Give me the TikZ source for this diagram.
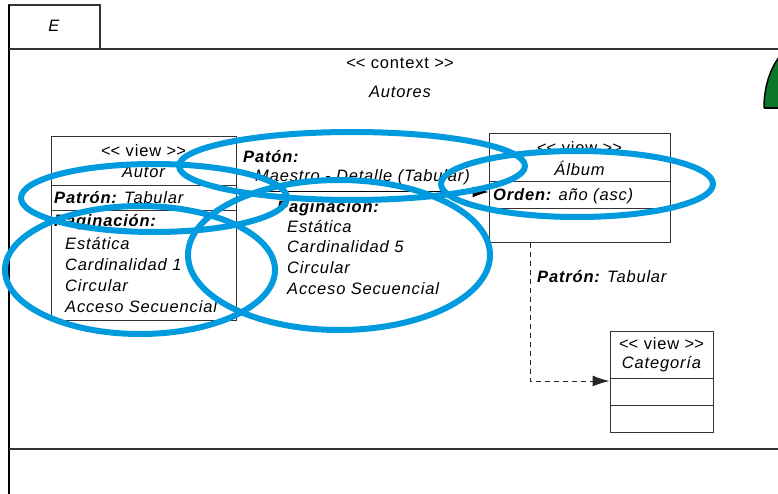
\documentclass[tikz,border=0pt]{standalone}
\usepackage{fontspec}
\setmainfont{Liberation Sans}[LetterSpace=5]
\usetikzlibrary{arrows.meta}
\newcommand{\stereo}[1]{<\kern0pt< #1 >\kern0pt>}
\begin{document}
\begin{tikzpicture}[x=1pt,y=-1pt,
  every node/.style={font=\fontsize{16.5}{19}\selectfont, inner sep=0pt},
  frame/.style={line width=1.6pt, draw=black!80},
  umlbox/.style={draw=black!80, line width=1pt, rectangle, fill=none},
  sep/.style={draw=black!80, line width=1pt},
  lbl/.style={anchor=west},
  ctr/.style={anchor=center},
  assoc/.style={draw=black, line width=1pt, -{Latex[length=16pt,width=11pt]}},
  dep/.style={draw=black!85, line width=1pt, dash pattern=on 5pt off 4pt, -{Latex[length=17pt,width=11pt]}},
  annot/.style={draw={rgb,255:red,0;green,155;blue,222}, line width=6pt}
]
\useasboundingbox (0,0) rectangle (778,494);
\fill[white] (0,0) rectangle (778,494);

% frame
\node[umlbox, frame, minimum width=91pt, minimum height=44pt] (tabE) at (54.5,27) {};
\node[ctr] (tE) at (54,26) {\itshape E};
\coordinate (ftl) at (9,5);
\coordinate (fbl) at (9,494);
\coordinate (h1l) at (9,49);
\coordinate (h1r) at (778,49);
\coordinate (h2l) at (9,449);
\coordinate (h2r) at (778,449);
\draw[frame, draw=black] (ftl) -- (fbl);
\draw[frame] (h1l) -- (h1r);
\draw[frame] (h2l) -- (h2r);

\node[ctr] (ctx) at (400,63) {\stereo{context}};
\node[ctr] (ctxn) at (400,92) {\itshape Autores};

% green shape
\begin{scope}
\clip (0,0) rectangle (778,108);
\draw[line width=1.5pt, fill={rgb,255:red,10;green,120;blue,40}] (804,108) ellipse [x radius=40, y radius=65];
\end{scope}
\coordinate (gl) at (764,108);
\coordinate (gr) at (778,108);
\draw[line width=1.5pt] (gl) -- (gr);

% Autor box
\node[umlbox, minimum width=185pt, minimum height=183pt] (autor) at (143.5,228.5) {};
\node[ctr] (autorS) at (143.5,151) {\stereo{view}};
\node[ctr] (autorN) at (143.5,172) {\itshape Autor};
\draw[sep] (autor.west |- 0,186) -- (autor.east |- 0,186);
\node[lbl] (autorP) at (54,198) {\bfseries\itshape Patrón: \mdseries Tabular};
\draw[sep] (autor.west |- 0,211) -- (autor.east |- 0,211);
\node[lbl] (autorG) at (54,222) {\bfseries\itshape Paginación:};
\node[lbl] (autor1) at (65,244) {\itshape Estática};
\node[lbl] (autor2) at (65,265) {\itshape Cardinalidad 1};
\node[lbl] (autor3) at (65,286) {\itshape Circular};
\node[lbl] (autor4) at (65,307) {\itshape Acceso Secuencial};

% Album box
\node[umlbox, minimum width=181pt, minimum height=108pt] (album) at (579.5,188) {};
\node[ctr] (albumS) at (579.5,148) {\stereo{view}};
\node[ctr] (albumN) at (579.5,168) {\itshape Álbum};
\draw[sep] (album.west |- 0,182) -- (album.east |- 0,182);
\node[lbl] (albumO) at (493,196) {\bfseries\itshape Orden: \mdseries año (asc)};
\draw[sep] (album.west |- 0,209) -- (album.east |- 0,209);

% Categoria box
\node[umlbox, minimum width=103pt, minimum height=101pt] (cat) at (661.5,381.5) {};
\node[ctr] (catS) at (661.5,344) {\stereo{view}};
\node[ctr] (catN) at (661.5,364) {\itshape Categoría};
\draw[sep] (cat.west |- 0,378) -- (cat.east |- 0,378);
\draw[sep] (cat.west |- 0,405) -- (cat.east |- 0,405);

% association Autor -> Album
\draw[assoc] (autor.east |- 0,192) -- (album.west |- 0,192);
\node[lbl] (mP) at (243,157) {\bfseries\itshape Patón:};
\node[lbl] (mM) at (255,177) {\itshape Maestro - Detalle (Tabular)};
\node[lbl] (mG) at (277,208) {\bfseries\itshape Paginación:};
\node[lbl] (m1) at (287,227) {\itshape Estática};
\node[lbl] (m2) at (287,247) {\itshape Cardinalidad 5};
\node[lbl] (m3) at (287,268) {\itshape Circular};
\node[lbl] (m4) at (287,289) {\itshape Acceso Secuencial};

% dependency Album -> Categoria
\coordinate (dstart) at (530,242);
\draw[dep] (album.south -| dstart) |- (cat.west |- 0,381);
\node[lbl] (dP) at (537,277) {\bfseries\itshape Patrón: \mdseries Tabular};

% blue annotation ellipses
\draw[annot] (154,198) ellipse [x radius=133, y radius=34];
\draw[annot] (140,270) ellipse [x radius=135, y radius=64];
\draw[annot] (352,166) ellipse [x radius=173, y radius=34];
\draw[annot] (339,255) ellipse [x radius=151, y radius=75];
\draw[annot] (577,184) ellipse [x radius=136, y radius=33];
\end{tikzpicture}
\end{document}
